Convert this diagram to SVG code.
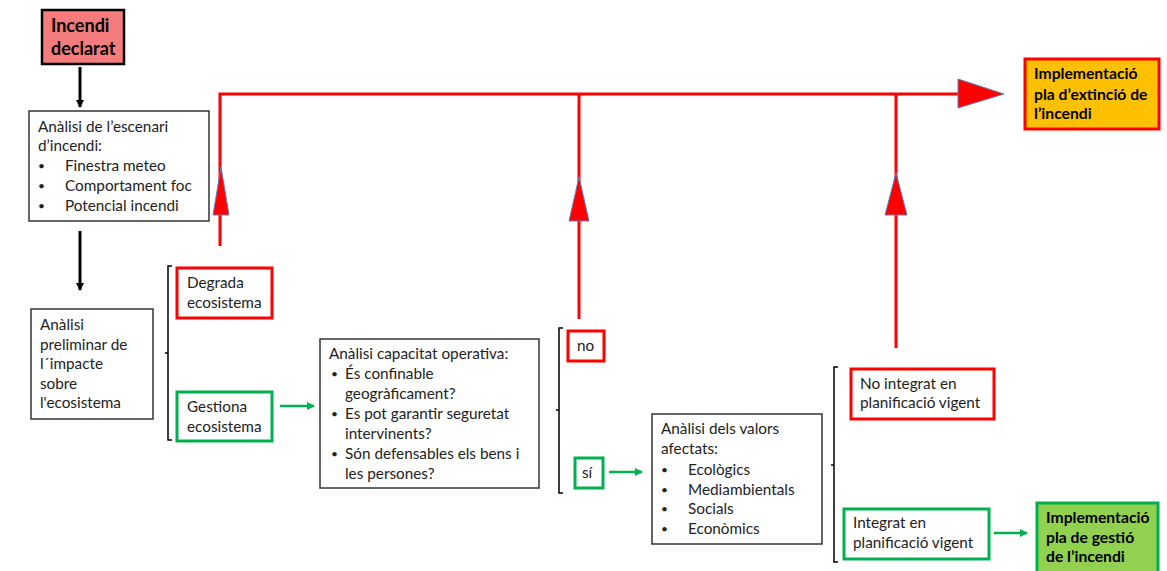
<svg xmlns="http://www.w3.org/2000/svg" width="1167" height="571" viewBox="0 0 1167 571">
<defs>
<marker id="ab" markerWidth="8" markerHeight="8" refX="7" refY="4" orient="auto" markerUnits="userSpaceOnUse"><path d="M0,0 L8,4 L0,8 Z" fill="#000"/></marker>
<marker id="ag" markerWidth="8" markerHeight="8" refX="7" refY="4" orient="auto" markerUnits="userSpaceOnUse"><path d="M0,0 L8,4 L0,8 Z" fill="#00B050"/></marker>
</defs>
<style>
.t{font-family:Lato,"Liberation Sans",sans-serif;font-size:15.3px;fill:#222}
.d{font-family:Lato,"Liberation Sans",sans-serif;font-size:12px;fill:#222}
.b{font-family:Lato,"Liberation Sans",sans-serif;font-size:15.7px;font-weight:bold;fill:#000}
.bx{fill:#fff;stroke:#333;stroke-width:1.5}
.rb{fill:#fff;stroke:#FF0000;stroke-width:3}
.gb{fill:#fff;stroke:#00B050;stroke-width:3}
.br{fill:none;stroke:#000;stroke-width:1.5}
.rl{fill:none;stroke:#FF0000;stroke-width:3}
.ah{fill:#FF0000;stroke:#5B7DB8;stroke-width:1}
</style>
<g id="connectors">
<line x1="80" y1="67" x2="80" y2="107" stroke="#000" stroke-width="3" marker-end="url(#ab)"/>
<line x1="80" y1="231" x2="80" y2="290" stroke="#000" stroke-width="3" marker-end="url(#ab)"/>
<line x1="280" y1="406" x2="314" y2="406" stroke="#00B050" stroke-width="2.5" marker-end="url(#ag)"/>
<line x1="609" y1="472" x2="642" y2="472" stroke="#00B050" stroke-width="2.5" marker-end="url(#ag)"/>
<line x1="994" y1="533" x2="1027" y2="533" stroke="#00B050" stroke-width="2.5" marker-end="url(#ag)"/>
<path class="rl" d="M220,246 V94 H965"/>
<path class="rl" d="M579,319 V94"/>
<path class="rl" d="M896,348 V94"/>
<path class="ah" d="M221,167 L229,215 L213,215 Z"/>
<path class="ah" d="M579,177 L589,221 L569,221 Z"/>
<path class="ah" d="M896,173 L907,215 L885,215 Z"/>
<path class="ah" d="M958,79 L1004,94 L958,108 Z"/>
<path class="br" d="M172,266 H168 V440 H172 M168,353 H165"/>
<path class="br" d="M563,328 H559 V493 H563 M559,410 H556"/>
<path class="br" d="M838,367 H834 V562 H838 M834,465 H831"/>
</g>
<g id="incendi-declarat">
<rect x="42" y="10" width="82" height="54" fill="#F47C7C" stroke="#000" stroke-width="2.5"/>
<text class="b" style="font-size:18px" x="51" y="32">Incendi</text>
<text class="b" style="font-size:18px" x="51" y="55">declarat</text>
</g>
<g id="analisi-escenari">
<rect class="bx" x="29" y="111" width="180" height="110"/>
<text class="t" x="38" y="132">Anàlisi de l’escenari</text>
<text class="t" x="38" y="151">d’incendi:</text>
<text class="d" x="38" y="170">•</text><text class="t" x="65" y="171">Finestra meteo</text>
<text class="d" x="38" y="190">•</text><text class="t" x="65" y="191">Comportament foc</text>
<text class="d" x="38" y="210">•</text><text class="t" x="65" y="211">Potencial incendi</text>
</g>
<g id="analisi-preliminar">
<rect class="bx" x="31" y="309" width="122" height="110"/>
<text class="t" x="40" y="330">Anàlisi</text>
<text class="t" x="40" y="350">preliminar de</text>
<text class="t" x="40" y="369">l´impacte</text>
<text class="t" x="40" y="389">sobre</text>
<text class="t" x="40" y="408">l'ecosistema</text>
</g>
<g id="degrada">
<rect class="rb" x="177" y="268" width="95" height="50"/>
<text class="t" x="187" y="288">Degrada</text>
<text class="t" x="187" y="308">ecosistema</text>
</g>
<g id="gestiona">
<rect class="gb" x="177" y="392" width="95" height="49"/>
<text class="t" x="187" y="412">Gestiona</text>
<text class="t" x="187" y="432">ecosistema</text>
</g>
<g id="capacitat">
<rect class="bx" x="320" y="339" width="219" height="149"/>
<text class="t" x="329" y="359">Anàlisi capacitat operativa:</text>
<text class="d" x="331" y="378">•</text><text class="t" x="345" y="379">És confinable</text>
<text class="t" x="345" y="399">geogràficament?</text>
<text class="d" x="331" y="418">•</text><text class="t" x="345" y="419">Es pot garantir seguretat</text>
<text class="t" x="345" y="439">intervinents?</text>
<text class="d" x="331" y="458">•</text><text class="t" x="345" y="459">Són defensables els bens i</text>
<text class="t" x="345" y="479">les persones?</text>
</g>
<g id="no">
<rect class="rb" x="568" y="331" width="36" height="30"/>
<text class="t" x="577" y="351">no</text>
</g>
<g id="si">
<rect class="gb" x="575" y="458" width="28" height="30"/>
<text class="t" x="582" y="478">sí</text>
</g>
<g id="valors">
<rect class="bx" x="652" y="414" width="170" height="130"/>
<text class="t" x="661" y="434">Anàlisi dels valors</text>
<text class="t" x="661" y="454">afectats:</text>
<text class="d" x="661" y="474">•</text><text class="t" x="688" y="475">Ecològics</text>
<text class="d" x="661" y="494">•</text><text class="t" x="688" y="495">Mediambientals</text>
<text class="d" x="661" y="513">•</text><text class="t" x="688" y="514">Socials</text>
<text class="d" x="661" y="533">•</text><text class="t" x="688" y="534">Econòmics</text>
</g>
<g id="no-integrat">
<rect class="rb" x="851" y="369" width="143" height="50"/>
<text class="t" x="860" y="389">No integrat en</text>
<text class="t" x="860" y="408">planificació vigent</text>
</g>
<g id="integrat">
<rect class="gb" x="844" y="509" width="145" height="50"/>
<text class="t" x="853" y="528">Integrat en</text>
<text class="t" x="853" y="548">planificació vigent</text>
</g>
<g id="pla-gestio">
<rect x="1037" y="503" width="121" height="72" fill="#92D050" stroke="#00B050" stroke-width="3"/>
<text class="b" x="1046" y="523">Implementació</text>
<text class="b" x="1046" y="543">pla de gestió</text>
<text class="b" x="1046" y="562">de l’incendi</text>
</g>
<g id="pla-extincio">
<rect x="1025" y="59" width="134" height="70" fill="#FFC000" stroke="#FF0000" stroke-width="3"/>
<text class="b" x="1034" y="79">Implementació</text>
<text class="b" x="1034" y="100">pla d’extinció de</text>
<text class="b" x="1034" y="119">l’incendi</text>
</g>
</svg>
